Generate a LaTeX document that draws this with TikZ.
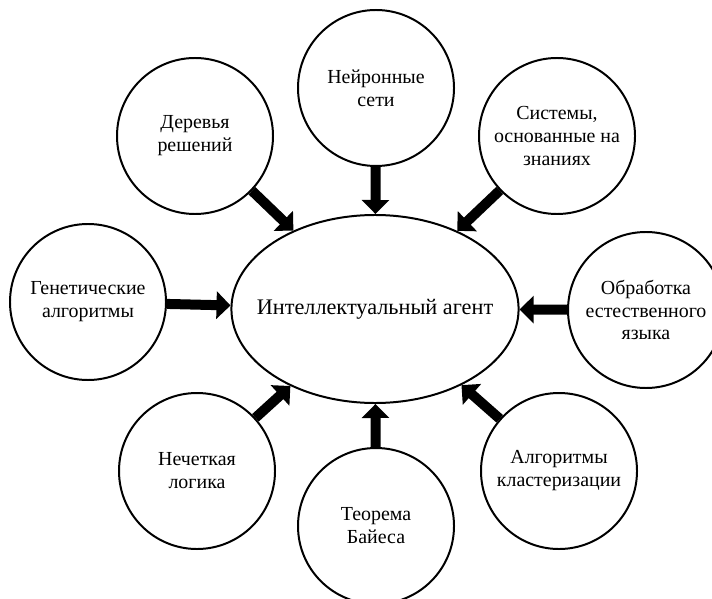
\documentclass[tikz,border=0pt]{standalone}
\usepackage{fontspec}
\setmainfont{Liberation Serif}
\usetikzlibrary{arrows.meta,shapes.geometric}

\begin{document}
\begin{tikzpicture}[
  x=0.03cm, y=-0.03cm,
  font=\fontsize{17}{19.6}\selectfont,
  topic/.style={draw, circle, line width=1.7pt, align=center,
    minimum size=4.68cm, inner sep=0pt},
  agentbox/.style={draw, ellipse, line width=1.7pt, align=center,
    inner xsep=-0.5cm, inner ysep=0pt,
    minimum width=8.58cm, minimum height=5.64cm, font=\fontsize{19}{22}\selectfont},
  arr/.style={-{Triangle[width=0.81cm, length=0.42cm]}, line width=0.3cm}
]
\useasboundingbox (0,0) rectangle (712,599);
\node[agentbox] (agent) at (375,309) {Интеллектуальный агент};
\node[topic] (neural) at (376,88) {Нейронные\\сети};
\node[topic] (trees) at (195,136) {Деревья\\решений};
\node[topic] (systems) at (557,136) {Системы,\\основанные на\\знаниях};
\node[topic] (genetic) at (88,302) {Генетические\\алгоритмы};
\node[topic] (nlp) at (646,310) {Обработка\\естественного\\языка};
\node[topic] (fuzzy) at (197,471) {Нечеткая\\логика};
\node[topic] (bayes) at (376,526) {Теорема\\Байеса};
\node[topic] (cluster) at (559,471) {Алгоритмы\\кластеризации};
\draw[arr] (neural) -- (agent);
\draw[arr] (trees) -- (agent);
\draw[arr] (systems) -- (agent);
\draw[arr] (genetic) -- (agent);
\draw[arr] (nlp) -- (agent);
\draw[arr] (fuzzy) -- (agent);
\draw[arr] (bayes) -- (agent);
\draw[arr] (cluster) -- (agent);
\end{tikzpicture}
\end{document}
